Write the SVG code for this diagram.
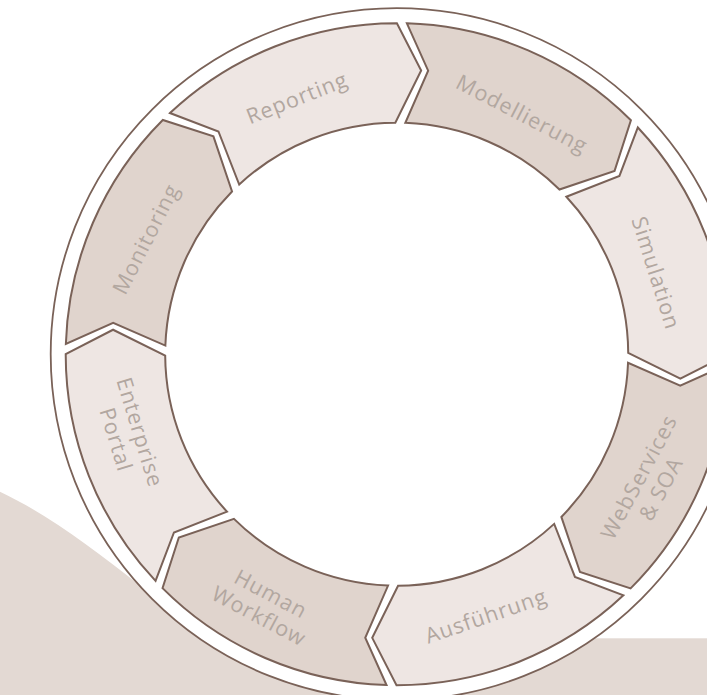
<svg xmlns="http://www.w3.org/2000/svg" xmlns:xlink="http://www.w3.org/1999/xlink" width="707" height="695" viewBox="0 0 707 695">
  <style>
    .bg{fill:#E3D9D3}
    .ring{fill:#FFFFFF;stroke:#7A6258;stroke-width:1.8}
    .seg{stroke:#7A6258;stroke-width:2;stroke-linejoin:miter}
    .light{fill:#EEE6E3}
    .dark{fill:#E0D4CD}
    .lbl{font-family:"Open Sans","Noto Sans","Liberation Sans",sans-serif;font-size:21.5px;letter-spacing:1px;fill:#B2A7A0;text-anchor:middle}
  </style>
  <defs>
    <path id="seg" d="M5,-330.96 A331,331 0 0 1 230.49,-237.56 L214.96,-186.68 L160.13,-167.2 A231.5,231.5 0 0 0 5,-231.45 L27,-284 Z"/>
  </defs>

  <g id="background">
    <path class="bg" d="M0,491.7 C47,513.8 93.3,549 140,585.5 L420,695 L0,695 Z"/>
    <rect class="bg" x="450" y="638.3" width="257" height="57"/>
    <circle class="ring" cx="396.7" cy="354.2" r="346"/>
  </g>

  <g id="modellierung">
    <use xlink:href="#seg" class="seg dark" transform="translate(396.7,354.2) rotate(0.9)"/>
    <text class="lbl" transform="translate(522,114) rotate(27.5)" y="7.5">Modellierung</text>
  </g>
  <g id="simulation">
    <use xlink:href="#seg" class="seg light" transform="translate(396.7,354.2) rotate(45.9)"/>
    <text class="lbl" transform="translate(656,273) rotate(72.6)" y="7.5">Simulation</text>
  </g>
  <g id="webservices">
    <use xlink:href="#seg" class="seg dark" transform="translate(396.7,354.2) rotate(90.9)"/>
    <text class="lbl" transform="translate(650,483) rotate(-62)"><tspan x="0" y="-5">WebServices</tspan><tspan x="0" y="20">&amp; SOA</tspan></text>
  </g>
  <g id="ausfuehrung">
    <use xlink:href="#seg" class="seg light" transform="translate(396.7,354.2) rotate(135.9)"/>
    <text class="lbl" transform="translate(486,616) rotate(-19)" y="7.5">Ausführung</text>
  </g>
  <g id="human-workflow">
    <use xlink:href="#seg" class="seg dark" transform="translate(396.7,354.2) rotate(180.9)"/>
    <text class="lbl" transform="translate(265,605) rotate(28)"><tspan x="0" y="-5">Human</tspan><tspan x="0" y="20">Workflow</tspan></text>
  </g>
  <g id="enterprise-portal">
    <use xlink:href="#seg" class="seg light" transform="translate(396.7,354.2) rotate(225.9)"/>
    <text class="lbl" transform="translate(128,436) rotate(73)"><tspan x="0" y="-5">Enterprise</tspan><tspan x="0" y="20">Portal</tspan></text>
  </g>
  <g id="monitoring">
    <use xlink:href="#seg" class="seg dark" transform="translate(396.7,354.2) rotate(270.9)"/>
    <text class="lbl" transform="translate(146,239) rotate(-63)" y="7.5">Monitoring</text>
  </g>
  <g id="reporting">
    <use xlink:href="#seg" class="seg light" transform="translate(396.7,354.2) rotate(315.9)"/>
    <text class="lbl" transform="translate(297,98) rotate(-21.5)" y="7.5">Reporting</text>
  </g>
</svg>
